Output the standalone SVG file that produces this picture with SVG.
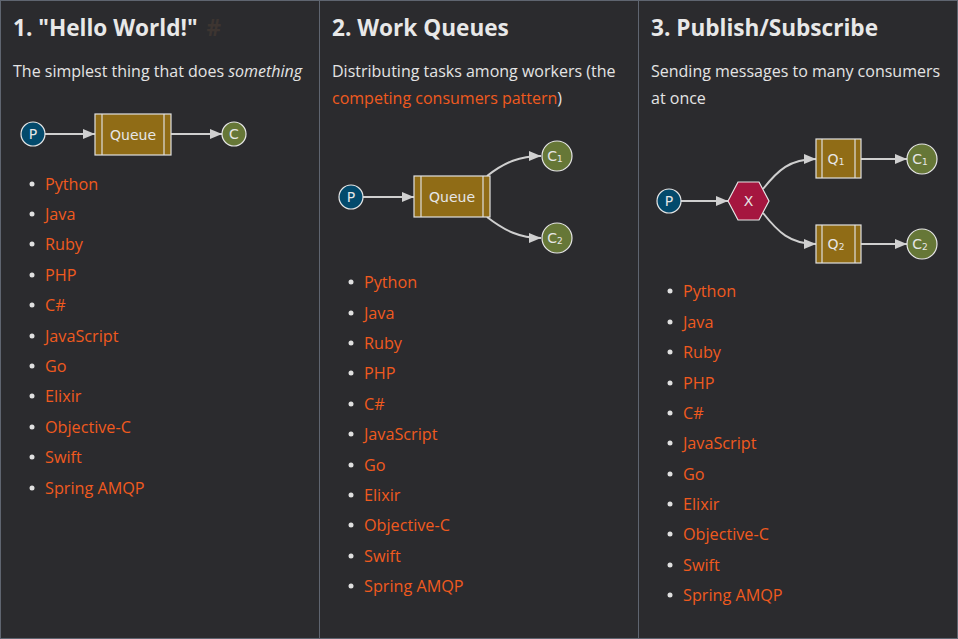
<svg xmlns="http://www.w3.org/2000/svg" width="958" height="639" viewBox="0 0 958 639">
<defs>
<marker id="arr" viewBox="0 0 12 10" refX="12" refY="5" markerWidth="12" markerHeight="10" markerUnits="userSpaceOnUse" orient="auto">
<path d="M0,0 L12,5 L0,10 z" fill="#d0d0d0"/>
</marker>
</defs>
<style>
.h{font-family:"Open Sans",Lato,sans-serif;font-weight:bold;font-size:22.6px;fill:#e8e8e8}
.d{font-family:"Open Sans",Lato,sans-serif;font-size:16px;fill:#e4e4e4}
.o{fill:#f05a1e}
.li{font-family:"Open Sans",Lato,sans-serif;font-size:16.2px;fill:#f05a1e}
.b{fill:#e0e0e0}
.e{fill:none;stroke:#cfcfcf;stroke-width:2;marker-end:url(#arr)}
.p{fill:#034a6c;stroke:#e6e6e6;stroke-width:1.2}
.c{fill:#667737;stroke:#e6e6e6;stroke-width:1.2}
.q{fill:#906c16;stroke:#e0e0e0;stroke-width:1.2}
.ql{stroke:#e0e0e0;stroke-width:1.2}
.x{fill:#a5163f;stroke:#e6e6e6;stroke-width:1.2}
.t{font-family:"DejaVu Sans",sans-serif;font-size:14px;fill:#e6e6e6;text-anchor:middle;dominant-baseline:central}
.ts{font-family:"DejaVu Sans",sans-serif;font-size:9px;fill:#e6e6e6}
</style>
<rect x="0" y="0" width="958" height="639" fill="#2b2b2e"/>
<rect x="0.5" y="0.5" width="957" height="638" fill="none" stroke="#5f6570"/>
<line x1="319.5" y1="0" x2="319.5" y2="639" stroke="#5f6570"/>
<line x1="638.5" y1="0" x2="638.5" y2="639" stroke="#5f6570"/>

<!-- Column 1 -->
<text class="h" x="13" y="36">1. "Hello World!" <tspan fill="#3d3531" dx="3">#</tspan></text>
<text class="d" x="13" y="77">The simplest thing that does <tspan font-style="italic">something</tspan></text>

<g id="edges">
<path class="e" d="M45,134 L95,134"/>
<path class="e" d="M171,134 L222,134"/>
<path class="e" d="M363,197 L414,197"/>
<path class="e" d="M487,176 C505,162 520,156 541,156"/>
<path class="e" d="M487,217 C505,231 520,238 541,238"/>
<path class="e" d="M681,201 L728,201"/>
<path class="e" d="M763,189 C778,170 790,159 816,159"/>
<path class="e" d="M763,213 C778,232 790,244 816,244"/>
<path class="e" d="M861,159 L907,159"/>
<path class="e" d="M861,244 L907,244"/>
</g>

<g id="p1"><circle class="p" cx="33" cy="134" r="12"/><text class="t" x="33" y="134">P</text></g>
<g id="q1"><rect class="q" x="95" y="114" width="76" height="41"/><line class="ql" x1="102" y1="114" x2="102" y2="155"/><line class="ql" x1="164" y1="114" x2="164" y2="155"/><text class="t" x="133" y="135">Queue</text></g>
<g id="c1"><circle class="c" cx="234" cy="134" r="12"/><text class="t" x="234" y="134">C</text></g>

<g id="list1">
<g class="b"><circle cx="32" cy="184" r="2.5"/><circle cx="32" cy="214" r="2.5"/><circle cx="32" cy="244" r="2.5"/><circle cx="32" cy="275" r="2.5"/><circle cx="32" cy="305" r="2.5"/><circle cx="32" cy="336" r="2.5"/><circle cx="32" cy="366" r="2.5"/><circle cx="32" cy="396" r="2.5"/><circle cx="32" cy="427" r="2.5"/><circle cx="32" cy="457" r="2.5"/><circle cx="32" cy="488" r="2.5"/></g>
<text class="li" x="45" y="190">Python</text>
<text class="li" x="45" y="220">Java</text>
<text class="li" x="45" y="250">Ruby</text>
<text class="li" x="45" y="281">PHP</text>
<text class="li" x="45" y="311">C#</text>
<text class="li" x="45" y="342">JavaScript</text>
<text class="li" x="45" y="372">Go</text>
<text class="li" x="45" y="402">Elixir</text>
<text class="li" x="45" y="433">Objective-C</text>
<text class="li" x="45" y="463">Swift</text>
<text class="li" x="45" y="494">Spring AMQP</text>
</g>

<!-- Column 2 -->
<text class="h" x="332" y="36">2. Work Queues</text>
<text class="d" x="332" y="77">Distributing tasks among workers (the</text>
<text class="d" x="332" y="104"><tspan class="o">competing consumers pattern</tspan>)</text>

<g id="p2"><circle class="p" cx="351" cy="197" r="12"/><text class="t" x="351" y="197">P</text></g>
<g id="q2"><rect class="q" x="414" y="176" width="76" height="41"/><line class="ql" x1="421" y1="176" x2="421" y2="217"/><line class="ql" x1="483" y1="176" x2="483" y2="217"/><text class="t" x="452" y="197">Queue</text></g>
<g id="c2a"><circle class="c" cx="557" cy="156" r="15"/><text class="t" x="555" y="156">C<tspan class="ts" dy="3">1</tspan></text></g>
<g id="c2b"><circle class="c" cx="557" cy="238" r="15"/><text class="t" x="555" y="238">C<tspan class="ts" dy="3">2</tspan></text></g>

<g id="list2">
<g class="b"><circle cx="351" cy="282" r="2.5"/><circle cx="351" cy="313" r="2.5"/><circle cx="351" cy="343" r="2.5"/><circle cx="351" cy="373" r="2.5"/><circle cx="351" cy="404" r="2.5"/><circle cx="351" cy="434" r="2.5"/><circle cx="351" cy="465" r="2.5"/><circle cx="351" cy="495" r="2.5"/><circle cx="351" cy="525" r="2.5"/><circle cx="351" cy="556" r="2.5"/><circle cx="351" cy="586" r="2.5"/></g>
<text class="li" x="364" y="288">Python</text>
<text class="li" x="364" y="319">Java</text>
<text class="li" x="364" y="349">Ruby</text>
<text class="li" x="364" y="379">PHP</text>
<text class="li" x="364" y="410">C#</text>
<text class="li" x="364" y="440">JavaScript</text>
<text class="li" x="364" y="471">Go</text>
<text class="li" x="364" y="501">Elixir</text>
<text class="li" x="364" y="531">Objective-C</text>
<text class="li" x="364" y="562">Swift</text>
<text class="li" x="364" y="592">Spring AMQP</text>
</g>

<!-- Column 3 -->
<text class="h" x="651" y="36">3. Publish/Subscribe</text>
<text class="d" x="651" y="77">Sending messages to many consumers</text>
<text class="d" x="651" y="104">at once</text>

<g id="p3"><circle class="p" cx="669" cy="201" r="12"/><text class="t" x="669" y="201">P</text></g>
<g id="x3"><polygon class="x" points="728,201 738,182 759,182 769,201 759,220 738,220"/><text class="t" x="748.5" y="201">X</text></g>
<g id="q3a"><rect class="q" x="816" y="139" width="45" height="39"/><line class="ql" x1="822" y1="139" x2="822" y2="178"/><line class="ql" x1="855" y1="139" x2="855" y2="178"/><text class="t" x="836" y="159">Q<tspan class="ts" dy="3">1</tspan></text></g>
<g id="q3b"><rect class="q" x="816" y="225" width="45" height="38"/><line class="ql" x1="822" y1="225" x2="822" y2="263"/><line class="ql" x1="855" y1="225" x2="855" y2="263"/><text class="t" x="836" y="244">Q<tspan class="ts" dy="3">2</tspan></text></g>
<g id="c3a"><circle class="c" cx="922" cy="159" r="15"/><text class="t" x="920" y="159">C<tspan class="ts" dy="3">1</tspan></text></g>
<g id="c3b"><circle class="c" cx="922" cy="244" r="15"/><text class="t" x="920" y="244">C<tspan class="ts" dy="3">2</tspan></text></g>

<g id="list3">
<g class="b"><circle cx="670" cy="291" r="2.5"/><circle cx="670" cy="322" r="2.5"/><circle cx="670" cy="352" r="2.5"/><circle cx="670" cy="383" r="2.5"/><circle cx="670" cy="413" r="2.5"/><circle cx="670" cy="443" r="2.5"/><circle cx="670" cy="474" r="2.5"/><circle cx="670" cy="504" r="2.5"/><circle cx="670" cy="534" r="2.5"/><circle cx="670" cy="565" r="2.5"/><circle cx="670" cy="595" r="2.5"/></g>
<text class="li" x="683" y="297">Python</text>
<text class="li" x="683" y="328">Java</text>
<text class="li" x="683" y="358">Ruby</text>
<text class="li" x="683" y="389">PHP</text>
<text class="li" x="683" y="419">C#</text>
<text class="li" x="683" y="449">JavaScript</text>
<text class="li" x="683" y="480">Go</text>
<text class="li" x="683" y="510">Elixir</text>
<text class="li" x="683" y="540">Objective-C</text>
<text class="li" x="683" y="571">Swift</text>
<text class="li" x="683" y="601">Spring AMQP</text>
</g>
</svg>
